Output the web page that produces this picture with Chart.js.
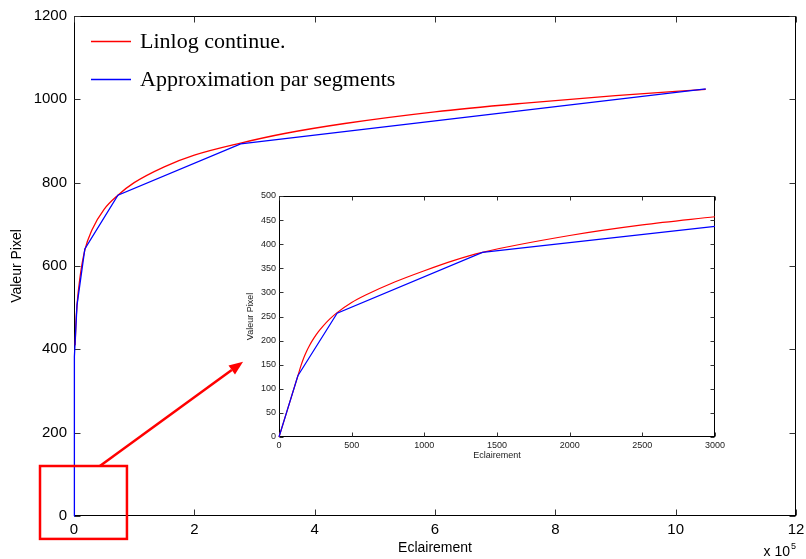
<!DOCTYPE html>
<html>
<head>
<meta charset="utf-8">
<title>Linlog continue / approximation par segments</title>
<script src="https://cdn.jsdelivr.net/npm/chart.js@4/dist/chart.umd.min.js"></script>
<style>
  html, body { margin: 0; padding: 0; background: #ffffff; }
  #wrap { position: relative; width: 806px; height: 559px; overflow: hidden; }
  #main { position: absolute; left: 0; top: 0; width: 806px; height: 559px; }
  #inset { position: absolute; left: 232px; top: 186px; width: 500px; height: 280px; }
</style>
</head>
<body>
<div id="wrap">
  <canvas id="main" width="806" height="559"></canvas>
  <canvas id="inset" width="500" height="280"></canvas>
</div>
<script>
// ---- Full range (illuminance in lux, pixel value) ----
const curveLux   = [2000, 3000, 5000, 10000, 18000, 30000, 50000, 73000, 100000, 150000, 200000, 277000, 350000, 450000, 600000, 750000, 900000, 1050000];
const curveValue = [410, 457, 506, 573, 638, 687, 736, 770, 800, 838, 866, 895, 918, 942, 970, 991, 1009, 1024];
const segmentLux   = [0, 130, 400, 1400, 5000, 18000, 73000, 277000, 1050000];
const segmentValue = [0, 127, 257, 383, 506, 641, 770, 893, 1025];

// ---- Zoom on the low illuminances ----
const zoomCurveLux   = [0, 130, 150, 170, 190, 210, 240, 270, 300, 350, 400, 500, 600, 800, 1000, 1200, 1400, 2000, 2500, 3000];
const zoomCurveValue = [0, 127, 147, 164, 178, 190, 205, 218, 229, 245, 258, 279, 295, 322, 345, 366, 383, 418, 440, 457];
const zoomSegmentLux   = [0, 130, 400, 1400, 3000];
const zoomSegmentValue = [0, 127, 257, 383, 437];

// ---- Series names and axis ticks ----
const seriesNames = ['Linlog continue.', 'Approximation par segments'];
const mainXTicks = [0, 2, 4, 6, 8, 10, 12];          // x 10^5 lux
const mainYTicks = [0, 200, 400, 600, 800, 1000, 1200];
const zoomXTicks = [0, 500, 1000, 1500, 2000, 2500, 3000];
const zoomYTicks = [0, 50, 100, 150, 200, 250, 300, 350, 400, 450, 500];
const xExponent = 5;

// Zoom marker (box around the origin) and arrow towards the zoomed view, in data units
const zoomBox = { x0: -0.565e5, x1: 0.88e5, y0: -55, y1: 120 };
const zoomArrow = { x0: 0.43e5, y0: 120, x1: 2.81e5, y1: 370 };

const RED = '#ff0000';
const BLUE = '#0000ff';
const SANS = '"Liberation Sans", Arial, Helvetica, sans-serif';
const SERIF = '"Liberation Serif", "Times New Roman", serif';

function points(xs, ys) { return xs.map((x, i) => ({ x: x, y: ys[i] })); }
function plain(v) { return String(v); }

// Box around the plot area with inward tick marks on all four sides
const frameTicks = {
  id: 'frameTicks',
  beforeDatasetsDraw(chart, args, opts) {
    const { ctx, chartArea: a, scales } = chart;
    const len = opts.length || 5;
    const L = Math.round(a.left) + 0.5, R = Math.round(a.right) - 0.5;
    const T = Math.round(a.top) + 0.5, B = Math.round(a.bottom) - 0.5;
    ctx.save();
    ctx.strokeStyle = '#000';
    ctx.lineWidth = 1;
    ctx.strokeRect(L, T, R - L, B - T);
    ctx.strokeStyle = opts.tickColor || '#000';
    ctx.beginPath();
    scales.x.ticks.forEach(t => {
      const px = Math.round(scales.x.getPixelForValue(t.value)) + 0.5;
      ctx.moveTo(px, B); ctx.lineTo(px, B - len);
      ctx.moveTo(px, T); ctx.lineTo(px, T + len);
    });
    scales.y.ticks.forEach(t => {
      const py = Math.round(scales.y.getPixelForValue(t.value)) + 0.5;
      ctx.moveTo(L, py); ctx.lineTo(L + len, py);
      ctx.moveTo(R, py); ctx.lineTo(R - len, py);
    });
    ctx.stroke();
    ctx.restore();
  }
};

// Legend inside the plot, zoom box, arrow and the x10^5 multiplier
const mainOverlay = {
  id: 'mainOverlay',
  afterDatasetsDraw(chart) {
    const { ctx, scales: { x, y } } = chart;
    ctx.save();
    // zoom box
    ctx.strokeStyle = RED;
    ctx.lineWidth = 2.5;
    const bx0 = x.getPixelForValue(zoomBox.x0), bx1 = x.getPixelForValue(zoomBox.x1);
    const by0 = y.getPixelForValue(zoomBox.y0), by1 = y.getPixelForValue(zoomBox.y1);
    ctx.strokeRect(bx0, by1, bx1 - bx0, by0 - by1);
    // arrow
    const ax0 = x.getPixelForValue(zoomArrow.x0), ay0 = y.getPixelForValue(zoomArrow.y0);
    const ax1 = x.getPixelForValue(zoomArrow.x1), ay1 = y.getPixelForValue(zoomArrow.y1);
    const ang = Math.atan2(ay1 - ay0, ax1 - ax0);
    const headLen = 14, headHalf = 5.5;
    const hx = ax1 - headLen * Math.cos(ang), hy = ay1 - headLen * Math.sin(ang);
    ctx.beginPath();
    ctx.moveTo(ax0, ay0);
    ctx.lineTo(hx, hy);
    ctx.stroke();
    ctx.fillStyle = RED;
    ctx.beginPath();
    ctx.moveTo(ax1, ay1);
    ctx.lineTo(hx + headHalf * Math.sin(ang), hy - headHalf * Math.cos(ang));
    ctx.lineTo(hx - headHalf * Math.sin(ang), hy + headHalf * Math.cos(ang));
    ctx.closePath();
    ctx.fill();

    // legend
    const colors = [RED, BLUE];
    const rows = [41, 79];
    ctx.lineWidth = 1.5;
    ctx.font = '22px ' + SERIF;
    ctx.textBaseline = 'middle';
    ctx.textAlign = 'left';
    seriesNames.forEach((name, i) => {
      ctx.strokeStyle = colors[i];
      ctx.beginPath();
      ctx.moveTo(91, rows[i] + 0.5);
      ctx.lineTo(131, rows[i] + 0.5);
      ctx.stroke();
      ctx.fillStyle = '#000';
      ctx.fillText(name, 140, rows[i] + 1);
    });
    ctx.restore();
  },
  afterDraw(chart) {
    const { ctx, chartArea: a } = chart;
    ctx.save();
    ctx.fillStyle = '#000';
    ctx.textBaseline = 'alphabetic';
    ctx.textAlign = 'right';
    ctx.font = '9px ' + SANS;
    const supW = ctx.measureText(String(xExponent)).width;
    ctx.fillText(String(xExponent), a.right, 549);
    ctx.font = '14px ' + SANS;
    ctx.fillText('x 10', a.right - supW - 1, 556);
    ctx.restore();
  }
};

// Fixed scale boxes so the plot area sits where the layout padding puts it
function fixHeight(h) {
  return s => { s.height = h; s.paddingLeft = 0; s.paddingRight = 0; };
}
function fixWidth(w) {
  return s => { s.width = w; s.paddingTop = 0; s.paddingBottom = 0; };
}

const mainChart = new Chart(document.getElementById('main'), {
  type: 'scatter',
  data: {
    datasets: [
      {
        label: seriesNames[1],
        data: points(segmentLux, segmentValue),
        showLine: true,
        borderColor: BLUE,
        borderWidth: 1.3,
        pointRadius: 0,
        tension: 0,
        clip: false
      },
      {
        label: seriesNames[0],
        data: points(curveLux, curveValue),
        showLine: true,
        borderColor: RED,
        borderWidth: 1.3,
        pointRadius: 0,
        cubicInterpolationMode: 'monotone',
        clip: false
      }
    ]
  },
  options: {
    responsive: false,
    animation: false,
    devicePixelRatio: 1,
    layout: { padding: { left: 0, top: 16, right: 10, bottom: 0 } },
    plugins: {
      legend: { display: false },
      tooltip: { enabled: false },
      frameTicks: { length: 6, tickColor: '#333' }
    },
    scales: {
      x: {
        type: 'linear',
        min: 0, max: 1.2e6,
        afterFit: fixHeight(43),
        afterBuildTicks(s) { s.ticks = mainXTicks.map(v => ({ value: v * 1e5 })); },
        ticks: {
          padding: 5,
          color: '#000',
          font: { family: SANS, size: 15 },
          maxRotation: 0,
          autoSkip: false,
          callback: v => String(Math.round(v / 1e5))
        },
        grid: { display: false, drawTicks: false },
        border: { display: false },
        title: {
          display: true, text: 'Eclairement', color: '#000',
          font: { family: SANS, size: 14 }, padding: { top: 0, bottom: 2 }
        }
      },
      y: {
        type: 'linear',
        min: 0, max: 1200,
        afterFit: fixWidth(74),
        afterBuildTicks(s) { s.ticks = mainYTicks.map(v => ({ value: v })); },
        ticks: {
          padding: 7,
          color: '#000',
          font: { family: SANS, size: 15 },
          autoSkip: false,
          callback: plain
        },
        grid: { display: false, drawTicks: false },
        border: { display: false },
        title: {
          display: true, text: 'Valeur Pixel', color: '#000',
          font: { family: SANS, size: 14 }, padding: { top: 9, bottom: 0 }
        }
      }
    }
  },
  plugins: [frameTicks, mainOverlay]
});

const insetChart = new Chart(document.getElementById('inset'), {
  type: 'scatter',
  data: {
    datasets: [
      {
        label: seriesNames[1],
        data: points(zoomSegmentLux, zoomSegmentValue),
        showLine: true,
        borderColor: BLUE,
        borderWidth: 1.2,
        pointRadius: 0,
        tension: 0,
        clip: false
      },
      {
        label: seriesNames[0],
        data: points(zoomCurveLux, zoomCurveValue),
        showLine: true,
        borderColor: RED,
        borderWidth: 1.2,
        pointRadius: 0,
        cubicInterpolationMode: 'monotone',
        clip: false
      }
    ]
  },
  options: {
    responsive: false,
    animation: false,
    devicePixelRatio: 1,
    layout: { padding: { left: 0, top: 10, right: 17, bottom: 0 } },
    plugins: {
      legend: { display: false },
      tooltip: { enabled: false },
      frameTicks: { length: 4, tickColor: '#333' }
    },
    scales: {
      x: {
        type: 'linear',
        min: 0, max: 3000,
        afterFit: fixHeight(29),
        afterBuildTicks(s) { s.ticks = zoomXTicks.map(v => ({ value: v })); },
        ticks: {
          padding: 3,
          color: '#222',
          font: { family: SANS, size: 9 },
          maxRotation: 0,
          autoSkip: false,
          callback: plain
        },
        grid: { display: false, drawTicks: false },
        border: { display: false },
        title: {
          display: true, text: 'Eclairement', color: '#222',
          font: { family: SANS, size: 9 }, padding: { top: 0, bottom: 5 }
        }
      },
      y: {
        type: 'linear',
        min: 0, max: 500,
        afterFit: fixWidth(47),
        afterBuildTicks(s) { s.ticks = zoomYTicks.map(v => ({ value: v })); },
        ticks: {
          padding: 3,
          color: '#222',
          font: { family: SANS, size: 9 },
          autoSkip: false,
          callback: plain
        },
        grid: { display: false, drawTicks: false },
        border: { display: false },
        title: {
          display: true, text: 'Valeur Pixel', color: '#222',
          font: { family: SANS, size: 9 }, padding: { top: 13, bottom: 0 }
        }
      }
    }
  },
  plugins: [frameTicks]
});
</script>
</body>
</html>
